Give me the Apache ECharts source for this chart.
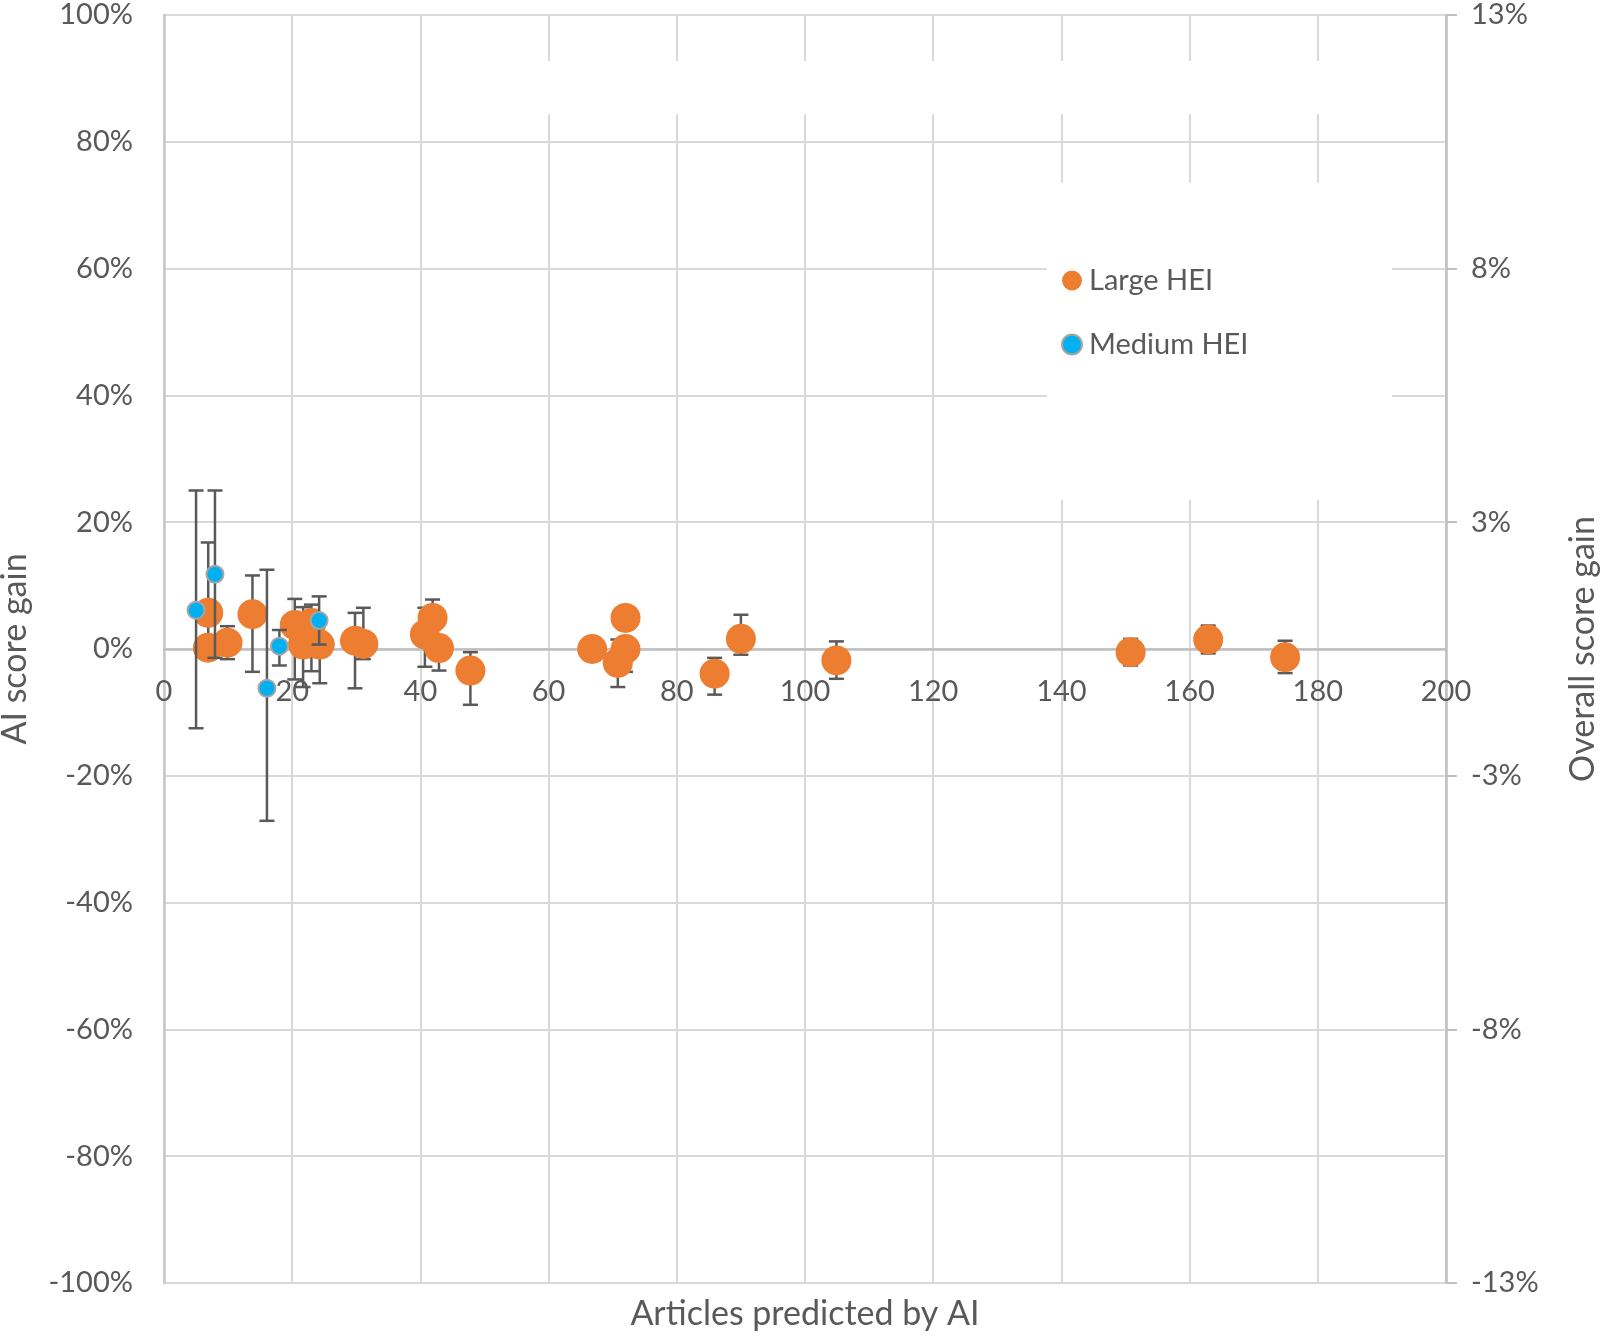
<!DOCTYPE html>
<html>
<head>
<meta charset="utf-8">
<script src="https://cdn.jsdelivr.net/npm/echarts@6/dist/echarts.min.js"></script>
<style>
  html, body { margin: 0; padding: 0; background: #fff; }
  #chart { width: 1603px; height: 1336px; }
</style>
</head>
<body>
<div id="chart"></div>
<script>
// Large HEI points: x = articles predicted, y = AI score gain (%), error bar ends
const largeX    = [6.9, 6.85, 9.9, 13.8, 20.4, 21.7, 23.0, 24.3, 29.8, 31.1, 40.7, 41.9, 42.9, 47.8, 66.8, 72.0, 72.0, 70.8, 85.9, 90.0, 104.9, 150.8, 162.9, 174.9]
const largeY    = [5.7, 0.2, 1.0, 5.5, 3.8, 0.7, 4.1, 0.7, 1.3, 0.8, 2.3, 4.9, 0.15, -3.4, 0.0, 4.9, 0.0, -2.2, -3.9, 1.6, -1.8, -0.5, 1.5, -1.3]
const largeHigh = [16.8, null, 3.6, 11.6, 7.9, 6.6, 7.0, 5.0, 5.7, 6.5, 6.5, 7.8, 2.0, -0.5, null, null, 1.5, 1.5, -1.4, 5.4, 1.2, 1.6, 3.7, 1.3]
const largeLow  = [-1.5, null, -1.6, -3.6, -4.8, -6.0, -3.5, -5.4, -6.2, -1.6, -2.8, 2.0, -3.4, -8.8, null, null, -3.6, -6.0, -7.2, -0.9, -4.7, -2.6, -0.7, -3.8]

// Medium HEI points
const mediumX    = [5.0, 7.95, 16.06, 18.0, 24.2]
const mediumY    = [6.1, 11.8, -6.2, 0.45, 4.5]
const mediumHigh = [25.0, 25.0, 12.5, 3.0, 8.3]
const mediumLow  = [-12.5, -1.4, -27.1, -2.6, 0.7]

// right axis tick labels (secondary axis, 0..25 steps of 5)
const rightTickLabels = ['-13%', '-8%', '-3%', '3%', '8%', '13%']

const FONT = 'Lato, "Open Sans", sans-serif'
const TEXT = '#595959'

function points(xs, ys) { return xs.map((x, i) => [x, ys[i]]) }
function errRows(xs, lows, highs) {
  const rows = []
  xs.forEach((x, i) => { if (lows[i] != null && highs[i] != null) rows.push([x, lows[i], highs[i]]) })
  return rows
}

function renderErr(params, api) {
  const x = api.value(0)
  const lo = api.coord([x, api.value(1)])
  const hi = api.coord([x, api.value(2)])
  const half = 7.5
  const style = { stroke: '#595959', lineWidth: 2.5 }
  return {
    type: 'group',
    children: [
      { type: 'line', shape: { x1: lo[0], y1: lo[1], x2: hi[0], y2: hi[1] }, style },
      { type: 'line', shape: { x1: hi[0] - half, y1: hi[1], x2: hi[0] + half, y2: hi[1] }, style },
      { type: 'line', shape: { x1: lo[0] - half, y1: lo[1], x2: lo[0] + half, y2: lo[1] }, style }
    ]
  }
}

const chart = echarts.init(document.getElementById('chart'))
chart.setOption({
  animation: false,
  backgroundColor: '#fff',
  textStyle: { fontFamily: FONT },
  grid: [
    { left: 164, right: 157, top: 15, bottom: 53, containLabel: false, outerBoundsMode: 'none' },
    // upper half only: its x axis sits on the 0% line and carries the labels
    { left: 164, right: 157, top: 15, height: 634, containLabel: false, outerBoundsMode: 'none' }
  ],
  legend: {
    orient: 'vertical',
    left: 1056, top: 261,
    itemWidth: 20, itemHeight: 20, itemGap: 35,
    icon: 'circle',
    textStyle: { color: TEXT, fontSize: 29, fontFamily: FONT, padding: [0, 0, 0, 2] },
    data: ['Large HEI', 'Medium HEI']
  },
  xAxis: [{
    type: 'value', min: 0, max: 200, interval: 20,
    axisLine: { show: false, onZero: false },
    axisTick: { show: false },
    axisLabel: { show: false },
    splitLine: { lineStyle: { color: '#d9d9d9', width: 2 } }
  }, {
    type: 'value', gridIndex: 1, min: 0, max: 200, interval: 20, position: 'bottom',
    axisLine: { onZero: false, lineStyle: { color: '#bfbfbf', width: 2.5 } },
    axisTick: { show: false },
    axisLabel: { color: TEXT, fontSize: 29, margin: 28, fontFamily: FONT },
    splitLine: { show: false }
  }],
  yAxis: [{
    type: 'value', min: -100, max: 100, interval: 20,
    name: 'AI score gain', nameLocation: 'middle', nameRotate: 90, nameGap: 132,
    nameTextStyle: { color: TEXT, fontSize: 34, fontFamily: FONT },
    axisLine: { show: true, onZero: false, lineStyle: { color: '#c8c8c8', width: 2.5 } },
    axisTick: { show: false },
    axisLabel: { color: TEXT, fontSize: 29, margin: 31, formatter: '{value}%', fontFamily: FONT },
    splitLine: { lineStyle: { color: '#d9d9d9', width: 2 } }
  }, {
    type: 'value', min: 0, max: 25, interval: 5, position: 'right',
    name: 'Overall score gain', nameLocation: 'middle', nameRotate: 90, nameGap: 120,
    nameTextStyle: { color: TEXT, fontSize: 34, fontFamily: FONT },
    axisLine: { show: true, onZero: false, lineStyle: { color: '#bfbfbf', width: 2.5 } },
    axisTick: { show: true, length: 11, lineStyle: { color: '#bfbfbf', width: 2 } },
    axisLabel: { color: TEXT, fontSize: 29, margin: 25, fontFamily: FONT,
      formatter: v => rightTickLabels[Math.round(v / 5)] },
    splitLine: { show: false }
  }, {
    type: 'value', gridIndex: 1, min: 0, max: 100, show: false
  }],
  graphic: [
    { type: 'rect', z: 1, shape: { x: 500, y: 61, width: 900, height: 53 }, style: { fill: '#fff' }, silent: true },
    { type: 'rect', z: 1, shape: { x: 1047, y: 183, width: 345, height: 317 }, style: { fill: '#fff' }, silent: true },
    { type: 'text', z: 5, x: 805, y: 1314,
      style: { text: 'Articles predicted by AI', fill: TEXT, font: '34px ' + FONT, align: 'center', verticalAlign: 'middle' } }
  ],
  series: [
    { type: 'custom', name: 'Large HEI err', renderItem: renderErr,
      data: errRows(largeX, largeLow, largeHigh), encode: { x: 0, y: [1, 2] }, z: 2, silent: true },
    { type: 'scatter', name: 'Large HEI', data: points(largeX, largeY), symbolSize: 30,
      itemStyle: { color: '#ED7D31', opacity: 1 }, z: 3 },
    { type: 'custom', name: 'Medium HEI err', renderItem: renderErr,
      data: errRows(mediumX, mediumLow, mediumHigh), encode: { x: 0, y: [1, 2] }, z: 4, silent: true },
    { type: 'scatter', name: 'Medium HEI', data: points(mediumX, mediumY), symbolSize: 17,
      itemStyle: { color: '#00B0F0', borderColor: '#a5a5a5', borderWidth: 2, opacity: 1 }, z: 5 }
  ]
})
</script>
</body>
</html>
